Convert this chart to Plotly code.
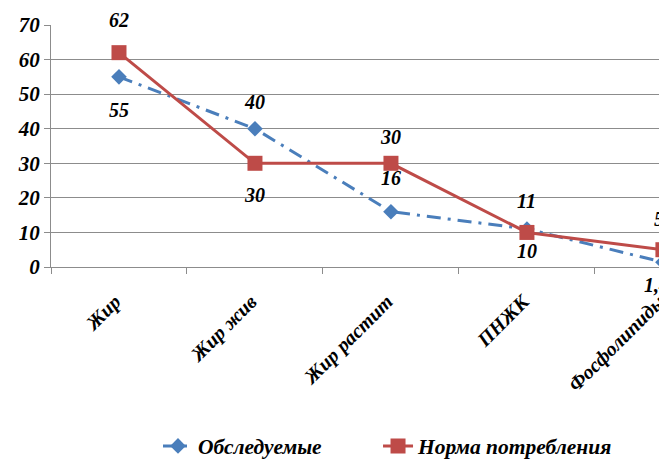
import plotly.graph_objects as go

categories = ["Жир", "Жир жив", "Жир растит", "ПНЖК", "Фосфолипиды"]
observed = [55, 40, 16, 11, 1.4]
norm = [62, 30, 30, 10, 5]
observed_labels = ["55", "40", "16", "11", "1,4"]
norm_labels = ["62", "30", "30", "10", "5"]

# label placement (pixels above/below each marker)
observed_yshift = [-33, 27, 34, 28, -23]
observed_xshift = [0, 0, 0, 0, -6]
norm_yshift = [33, -32, 26, -19, 31]
norm_xshift = [0, 0, 0, 0, -4]

BLUE = "#4A7EBB"
RED = "#BE4B48"
FAMILY = "Liberation Serif"
FONT = dict(family=FAMILY, color="black", weight="bold", style="italic")

fig = go.Figure()
fig.add_trace(go.Scatter(
    x=categories, y=observed, name="Обследуемые", mode="lines+markers",
    line=dict(color=BLUE, width=3, dash="14px,7px,3px,7px"),
    marker=dict(symbol="diamond", size=12, color=BLUE),
    cliponaxis=False, legend="legend",
))
fig.add_trace(go.Scatter(
    x=categories, y=norm, name="Норма потребления", mode="lines+markers",
    line=dict(color=RED, width=3),
    marker=dict(symbol="square", size=15, color=RED),
    cliponaxis=False, legend="legend2",
))

for c, v, t, ys, xs in zip(categories, observed, observed_labels, observed_yshift, observed_xshift):
    fig.add_annotation(x=c, y=v, text=t, showarrow=False, yshift=ys, xshift=xs,
                       font=dict(size=20, **FONT))
for c, v, t, ys, xs in zip(categories, norm, norm_labels, norm_yshift, norm_xshift):
    fig.add_annotation(x=c, y=v, text=t, showarrow=False, yshift=ys, xshift=xs,
                       font=dict(size=20, **FONT))

legend_common = dict(orientation="h", xref="container", yref="container",
                     xanchor="left", y=0.029, yanchor="middle",
                     font=dict(size=21.5, **FONT), bgcolor="rgba(0,0,0,0)")

fig.update_layout(
    width=659, height=451,
    margin=dict(l=43, r=0, t=17, b=192, autoexpand=False),
    paper_bgcolor="white", plot_bgcolor="white",
    showlegend=True,
    legend=dict(x=0.2276, **legend_common),
    legend2=dict(x=0.5615, **legend_common),
)
fig.update_xaxes(
    type="category", range=[-0.5, 4.03], automargin=False,
    showgrid=False, showline=True, linecolor="#8C8C8C", linewidth=1,
    ticks="outside", tickson="boundaries", ticklen=6, tickcolor="#8C8C8C",
    tickangle=-45, tickfont=dict(size=20, **FONT),
    ticklabelstandoff=14, ticklabelshift=-4,
)
fig.update_yaxes(
    range=[0, 70], dtick=10, automargin=False,
    showgrid=True, gridcolor="#8C8C8C", gridwidth=1,
    showline=True, linecolor="#8C8C8C", linewidth=1,
    ticks="outside", ticklen=6, tickcolor="#8C8C8C",
    tickfont=dict(size=21, **FONT), zeroline=False,
)

fig.write_html("out.html")
